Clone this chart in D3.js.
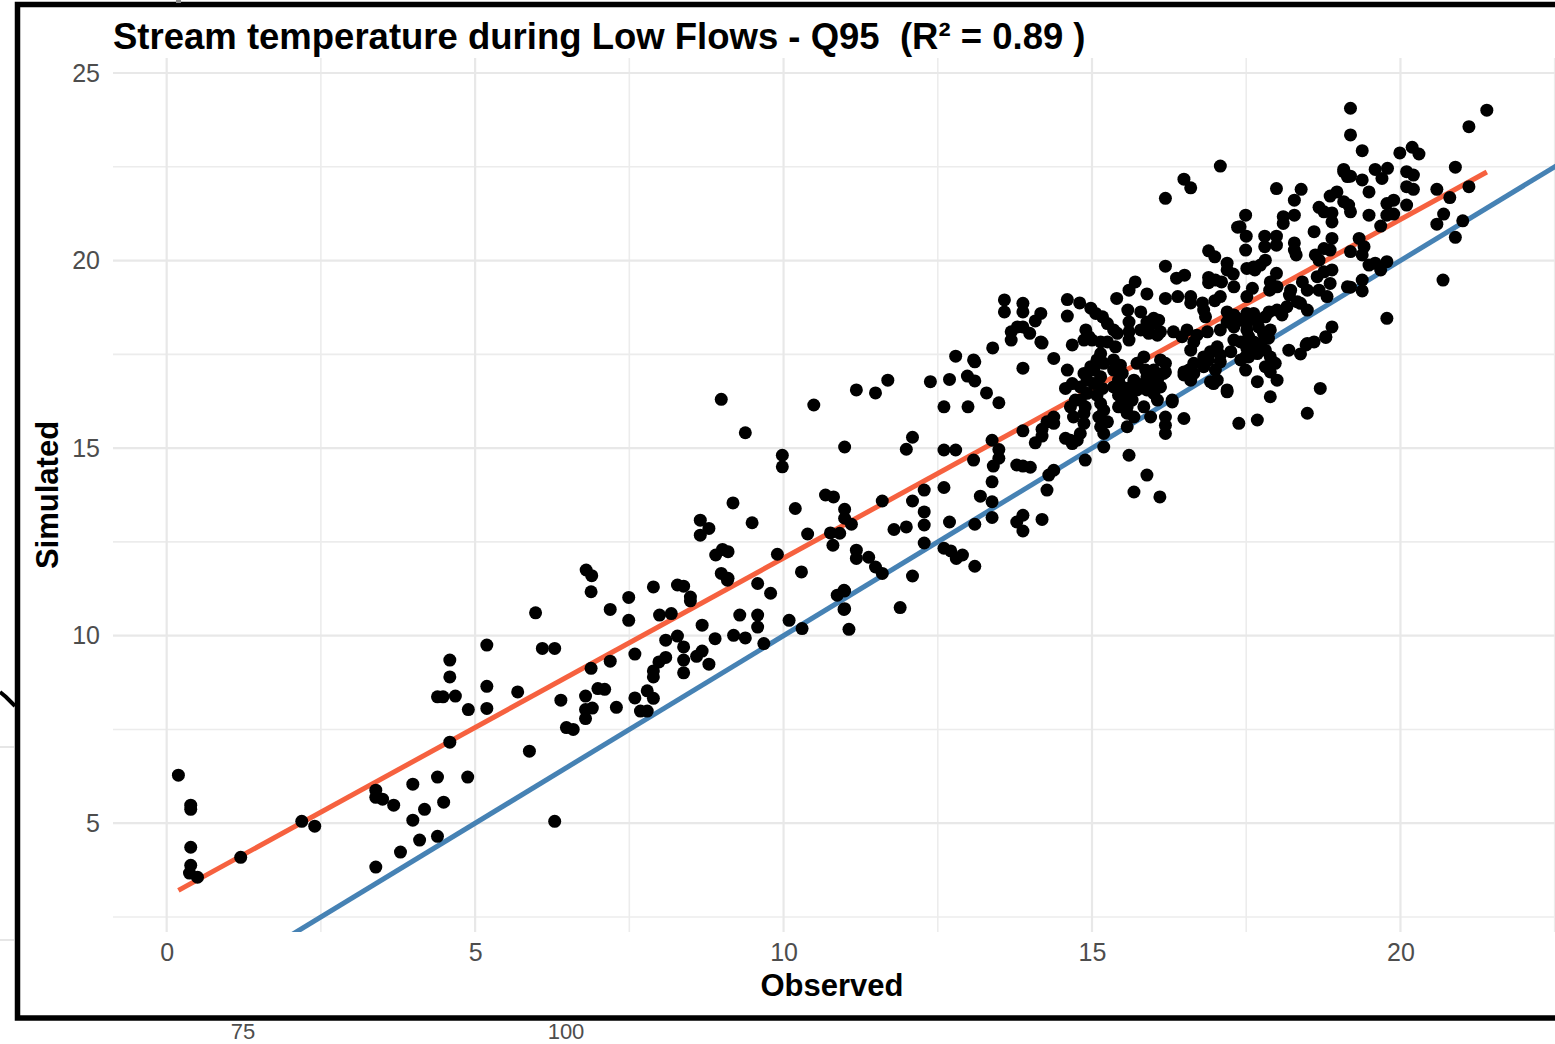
<!DOCTYPE html>
<html><head><meta charset="utf-8">
<script src="https://cdn.jsdelivr.net/npm/d3@7"></script>
<style>body{margin:0;background:#fff} svg{display:block}</style>
</head><body>
<svg id="chart" width="1555" height="1044"></svg>
<script>
// Observed / simulated stream temperature (°C) at Q95 low flows
const observed = [
0.19,0.39,0.39,0.39,0.39,0.37,0.5,1.2,2.19,2.4,
3.39,3.39,3.5,3.39,3.68,3.99,3.99,4.18,4.1,3.79,
4.39,4.49,4.39,4.88,5.88,6.29,4.59,
6.88,6.8,6.89,5.98,7.19,7.49,7.49,7.89,8.28,8.38,
8.49,8.49,9.09,9.58,9.79,10.98,10.87,10.98,11.06,10.09,
10.3,9.58,9.58,9.29,9.19,9.38,9.68,8.89,8.68,8.68,
8.59,8.79,8.38,8.38,8.38,8.28,8.09,8.09,7.98,7.89,
7.89,7.99,8.18,7.59,7.19,6.88,7.79,7.89,7.59,7.68,
7.79,7.29,6.99,7.1,6.79,6.79,6.9,6.79,6.39,6.48,
6.59,5.69,6.09,6.29,5.19,5.19,5.19,4.89,4.59,4.59,
4.39,4.48,4.68,
8.99,9.38,10.49,11.18,11.49,11.69,12.38,12.69,12.98,13.1,
13.1,13.88,12.6,12.99,13.29,13.49,10.99,11.99,12.09,12.6,
12.79,13.08,13.38,13.49,13.49,13.4,13.78,13.88,14.0,13.88,
14.08,14.19,14.19,14.27,14.27,14.19,13.88,13.78,13.88,13.38,
13.38,13.38,13.19,13.1,12.6,12.69,12.28,12.28,12.28,12.28,
12.09,11.79,11.99,11.6,12.6,12.71,12.8,12.9,13.1,12.09,
11.89,10.99,10.99,11.1,10.68,10.81,10.19,10.39,10.76,10.91,
10.8,11.18,11.18,11.38,11.49,11.6,9.98,9.98,9.18,9.49,
8.79,8.65,8.65,8.9,9.01,9.1,8.99,9.1,9.9,10.29,
10.99,10.99,
12.79,13.08,13.39,13.58,13.58,13.88,13.88,13.69,13.69,13.79,
13.88,13.99,14.08,14.17,14.17,
17.08,16.49,16.6,16.19,17.36,16.89,16.99,16.19,17.19,17.19,
17.29,16.37,16.5,16.89,16.89,17.0,17.1,17.3,15.7,15.6,
15.89,15.4,14.6,14.8,16.19,16.39,16.6,16.6,16.79,16.99,
15.58,15.79,14.98,15.06,15.17,14.6,16.81,16.84,16.0,
14.19,15.25,15.35,15.41,15.6,15.6,15.6,15.89,16.0,16.08,
15.79,15.92,16.06,16.11,14.9,14.95,14.87,15.0,15.14,15.25,
15.38,14.68,14.38,16.32,16.54,16.46,16.7,16.87,17.08,17.3,
17.41,17.51,17.3,17.19,17.3,17.41,17.03,16.92,17.08,17.25,
16.81,17.51,17.54,16.89,17.08,17.0,16.81,16.65,16.57,16.65,
16.49,16.97,17.19,17.38,16.49,16.19,16.19,16.19,16.3,16.11,
16.0,16.16,16.06,15.95,16.11,16.0,16.06,15.84,15.73,15.87,
15.89,15.84,15.73,15.89,15.68,15.63,15.57,15.65,15.57,15.35,
15.46,15.35,15.49,15.43,15.35,15.49,15.43,15.49,15.43,15.14,
15.08,15.19,15.03,15.14,15.03,15.17,15.08,14.98,14.87,14.92,
14.81,14.92,14.81,14.89,14.87,14.6,14.57,14.68,14.73,14.65,
14.7,15.14,15.19,15.11,15.25,15.14,15.19,14.87,14.81,14.65,
14.57,14.68,14.76,14.38,14.38,15.57,15.68,15.57,15.84,15.95,
15.19,15.6,14.89,15.89,15.68,16.1,14.38,14.3,17.41,17.49,
17.99,18.39,18.28,18.28,18.1,18.1,17.49,17.4,17.5,17.8,
17.8,17.99,17.99,18.28,18.28,18.31,18.6,18.68,18.76,18.89,
18.89,18.86,18.97,19.08,19.14,19.08,19.16,18.89,18.76,18.86,
18.62,18.68,17.49,17.62,17.73,17.81,17.51,17.64,17.99,17.89,
18.0,17.88,18.22,18.2,18.33,18.49,18.41,17.6,17.51,18.65,
18.76,18.89,18.86,18.81,18.68,19.14,17.08,17.19,17.35,17.51,
17.51,17.62,17.68,17.81,17.87,18.0,18.08,18.16,18.38,18.49,
17.51,17.54,17.62,17.49,17.57,17.49,17.7,17.78,17.89,17.86,
17.73,17.81,17.68,17.89,17.97,17.81,17.89,18.0,17.68,17.89,
18.19,18.38,18.49,18.6,18.79,18.89,18.7,18.49,17.68,17.19,
16.19,16.19,16.3,16.6,16.65,16.49,16.6,16.92,17.03,
19.19,19.19,19.38,19.99,20.19,20.3,21.4,21.11,20.89,21.11,
20.59,20.8,20.7,20.59,21.01,20.89,20.69,19.08,19.19,19.38,
19.49,19.59,19.7,19.79,20.1,20.21,20.1,20.21,20.1,19.78,
19.89,19.78,19.89,19.49,19.68,19.19,19.19,19.33,19.41,19.38,
19.49,19.59,19.78,19.68,19.19,19.38,19.38,19.78,18.79,18.47
];
const simulated = [
6.28,5.48,5.37,4.36,3.88,3.67,3.56,4.09,5.05,4.92,
5.88,5.69,5.64,3.83,5.48,6.04,5.08,5.37,4.55,4.23,
6.23,5.56,4.65,6.23,6.92,5.05,7.16,
11.17,11.75,11.6,10.61,10.7,11.02,10.41,11.3,11.35,11.32,
11.03,10.93,11.48,11.39,11.13,11.21,11.08,10.7,10.17,10.41,
10.19,10.55,10.23,10.55,10.01,9.94,9.79,9.92,10.28,9.59,
9.45,9.24,9.7,9.35,9.01,9.99,9.88,9.42,9.3,9.06,
8.9,10.55,10.59,9.51,9.32,9.13,8.53,8.33,8.34,7.99,
7.99,8.09,8.59,8.57,8.39,8.03,8.07,7.79,8.28,7.55,
7.5,8.5,9.66,9.66,9.75,8.65,8.06,8.03,9.35,8.9,
8.37,8.37,8.39,
16.3,15.41,16.15,16.55,16.47,16.81,16.77,16.83,16.92,16.79,
17.3,17.13,16.1,16.1,16.47,16.21,15.03,14.97,15.29,14.95,
14.95,14.68,15.21,14.96,14.73,14.52,14.55,14.52,14.49,15.46,
15.14,15.32,15.5,15.7,13.88,13.1,13.21,13.03,12.79,14.1,
13.57,13.15,13.72,12.97,13.95,13.03,13.88,13.3,12.95,12.47,
13.59,12.83,12.9,13.59,12.33,12.26,12.06,12.15,11.85,11.59,
10.75,13.37,13.13,12.97,13.75,13.7,13.39,12.71,12.74,12.73,
12.41,12.28,12.06,12.09,11.83,11.66,14.81,14.5,13.54,13.01,
12.86,13.08,12.68,12.15,12.3,12.24,11.66,11.53,12.17,11.7,
11.19,10.72,
17.45,17.35,17.67,18.95,18.63,18.86,18.63,18.1,17.88,18.23,
18.23,18.06,18.39,18.59,17.83,
22.52,22.17,21.94,21.66,20.89,20.26,20.1,19.85,19.93,19.75,
19.64,19.53,19.61,19.55,19.41,19.48,19.43,19.3,19.43,19.21,
19.11,18.99,18.96,18.87,18.99,19.04,19.04,18.87,18.87,18.93,
18.68,18.63,18.73,18.59,18.5,18.52,18.68,18.5,18.46,
17.8,18.32,18.15,18.06,18.36,18.1,17.88,18.36,18.32,18.41,
18.15,18.06,18.01,18.1,18.15,17.97,17.88,17.88,17.83,17.83,
17.7,17.75,17.39,18.1,18.15,17.97,18.01,18.1,18.15,18.23,
18.41,18.59,18.55,18.36,17.88,17.83,17.7,17.57,17.48,17.57,
17.43,17.66,17.43,17.35,17.3,17.08,17.17,17.26,17.08,16.99,
16.95,16.72,16.5,15.66,15.79,15.83,15.61,15.39,16.23,17.35,
17.08,16.99,16.81,16.63,16.63,16.46,16.28,17.43,17.26,17.08,
16.9,16.72,16.55,16.55,16.81,16.63,16.46,16.28,16.1,17.35,
17.21,17.08,16.99,16.81,16.63,16.63,16.41,16.23,16.1,17.52,
17.35,17.26,17.08,16.9,16.72,16.59,16.41,17.17,16.99,16.81,
16.63,16.46,16.28,16.1,15.93,17.08,16.59,16.72,16.28,16.1,
15.83,16.19,16.01,15.83,15.7,15.57,15.39,15.66,15.39,15.21,
15.26,15.12,15.21,15.83,15.66,15.93,15.83,15.57,16.1,15.83,
15.03,14.81,14.68,14.28,13.83,13.7,14.41,14.28,17.35,17.08,
21.92,21.9,21.61,21.21,21.17,20.99,21.21,20.9,20.65,20.65,
20.37,20.65,20.41,20.47,20.28,20.15,20.77,21.42,21.3,21.27,
21.03,21.72,21.83,22.37,22.24,21.57,21.48,20.59,20.32,20.28,
20.15,20.01,20.28,19.83,19.88,20.01,19.79,19.75,19.66,19.43,
19.3,19.21,19.21,19.08,18.9,19.21,19.43,19.26,19.04,19.57,
19.7,19.75,19.39,19.04,19.21,19.3,19.04,18.63,18.46,18.5,
18.33,18.59,18.41,18.5,18.63,18.68,18.55,18.77,18.86,18.68,
18.15,17.97,17.83,17.79,17.61,17.43,18.23,18.06,18.15,17.93,
17.79,17.61,17.52,17.43,17.26,17.17,17.03,16.81,16.77,16.37,
17.61,17.51,17.79,17.83,17.97,18.23,16.59,15.93,15.75,16.55,
17.26,17.03,16.28,17.61,17.83,17.03,16.81,16.77,16.81,
24.06,23.35,22.93,22.87,23.02,22.84,24.01,23.57,22.49,21.97,
21.9,21.68,21.24,20.97,21.06,20.62,19.48,22.43,22.25,22.15,
21.83,22.43,22.19,22.46,22.37,22.28,21.97,21.9,21.48,21.52,
21.61,21.21,21.24,21.21,20.92,21.3,20.24,20.59,20.37,20.15,
19.88,19.93,19.97,19.75,19.29,19.48,19.19,18.46,17.95,17.75
];
// Linear fit (geom_smooth lm) end points
const fitX = [0.19, 21.4];
const fitY = [3.21, 22.36];
// 1:1 reference line
const identitySlope = 1;
const identityIntercept = 0;
const xTicks = [0, 5, 10, 15, 20];
const yTicks = [5, 10, 15, 20, 25];
const xMinor = [2.5, 7.5, 12.5, 17.5, 22.5];
const yMinor = [2.5, 7.5, 12.5, 17.5, 22.5];
const titleText = "Stream temperature during Low Flows - Q95  (R\u00B2 = 0.89 )";
const xLabel = "Observed";
const yLabel = "Simulated";
const strayLabels = ["75", "100"];
const strayLabelX = [75, 100];

const FONT = "'Liberation Sans', Arial, Helvetica, sans-serif";
const svg = d3.select("#chart");
svg.append("rect").attr("width", 1555).attr("height", 1044).attr("fill", "#fff");

const x = d3.scaleLinear().domain([-0.87, 22.57]).range([113, 1559]);
const y = d3.scaleLinear().domain([2.1, 25.4]).range([932, 58]);
const [px0, px1] = x.range();
const [py0, py1] = y.range();

svg.append("defs").append("clipPath").attr("id", "panel")
  .append("rect").attr("x", px0).attr("y", py1).attr("width", px1 - px0).attr("height", py0 - py1);

const grid = svg.append("g");
grid.selectAll(".vmin").data(xMinor).join("line")
  .attr("x1", d => x(d)).attr("x2", d => x(d)).attr("y1", py1).attr("y2", py0)
  .attr("stroke", "#ececec").attr("stroke-width", 1.6);
grid.selectAll(".hmin").data(yMinor).join("line")
  .attr("y1", d => y(d)).attr("y2", d => y(d)).attr("x1", px0).attr("x2", px1)
  .attr("stroke", "#ececec").attr("stroke-width", 1.6);
grid.selectAll(".vmaj").data(xTicks).join("line")
  .attr("x1", d => x(d)).attr("x2", d => x(d)).attr("y1", py1).attr("y2", py0)
  .attr("stroke", "#e8e8e8").attr("stroke-width", 2.2);
grid.selectAll(".hmaj").data(yTicks).join("line")
  .attr("y1", d => y(d)).attr("y2", d => y(d)).attr("x1", px0).attr("x2", px1)
  .attr("stroke", "#e8e8e8").attr("stroke-width", 2.2);

const plot = svg.append("g").attr("clip-path", "url(#panel)");
const xd = x.domain();
plot.append("line")
  .attr("x1", x(xd[0])).attr("y1", y(identityIntercept + identitySlope * xd[0]))
  .attr("x2", x(xd[1])).attr("y2", y(identityIntercept + identitySlope * xd[1]))
  .attr("stroke", "#4682B4").attr("stroke-width", 5);
plot.append("path")
  .datum(d3.zip(fitX, fitY))
  .attr("d", d3.line().x(d => x(d[0])).y(d => y(d[1])))
  .attr("fill", "none").attr("stroke", "#F6613F").attr("stroke-width", 5);

plot.selectAll("circle").data(d3.zip(observed, simulated)).join("circle")
  .attr("cx", d => x(d[0])).attr("cy", d => y(d[1])).attr("r", 6.5).attr("fill", "#000");

const yAxis = svg.append("g").attr("transform", `translate(${px0},0)`)
  .call(d3.axisLeft(y).tickValues(yTicks).tickSize(0).tickPadding(13).tickFormat(d3.format("d")));
const xAxis = svg.append("g").attr("transform", `translate(0,${py0})`)
  .call(d3.axisBottom(x).tickValues(xTicks).tickSize(0).tickPadding(11).tickFormat(d3.format("d")));
[xAxis, yAxis].forEach(g => {
  g.select(".domain").remove();
  g.selectAll("text").attr("font-family", FONT).attr("font-size", 25).attr("fill", "#4d4d4d");
});

svg.append("text").attr("x", 113).attr("y", 49)
  .attr("font-family", FONT).attr("font-weight", "bold").attr("font-size", 36.5)
  .style("white-space", "pre").attr("fill", "#000").text(titleText);
svg.append("text").attr("x", (px0 + px1) / 2 - 4).attr("y", 996)
  .attr("text-anchor", "middle").attr("font-family", FONT).attr("font-weight", "bold")
  .attr("font-size", 31).attr("fill", "#000").text(xLabel);
svg.append("text").attr("transform", `translate(58,${(py0 + py1) / 2}) rotate(-90)`)
  .attr("text-anchor", "middle").attr("font-family", FONT).attr("font-weight", "bold")
  .attr("font-size", 31).attr("fill", "#000").text(yLabel);

// outer frame and fragments of the neighbouring figure
svg.append("rect").attr("x", 17.5).attr("y", 4.5).attr("width", 1600).attr("height", 1013.5)
  .attr("fill", "none").attr("stroke", "#000").attr("stroke-width", 5.5);
const strayX = d3.scaleLinear().domain([75, 100]).range([243, 566]);
svg.selectAll(".stray").data(strayLabels).join("text")
  .attr("x", (d, i) => strayX(strayLabelX[i])).attr("y", 1039)
  .attr("text-anchor", "middle")
  .attr("font-family", FONT).attr("font-size", 22).attr("fill", "#4d4d4d").text(d => d);
svg.append("line").attr("x1", 0).attr("x2", 14).attr("y1", 747).attr("y2", 747)
  .attr("stroke", "#e6e6e6").attr("stroke-width", 2);
svg.append("line").attr("x1", 0).attr("x2", 14).attr("y1", 940).attr("y2", 940)
  .attr("stroke", "#e6e6e6").attr("stroke-width", 2);
svg.append("path").attr("d", "M0,692 L6,697 L15,706")
  .attr("fill", "none").attr("stroke", "#000").attr("stroke-width", 4);
svg.append("rect").attr("x", 176).attr("y", 0).attr("width", 5).attr("height", 3).attr("fill", "#888");
</script>
</body></html>
